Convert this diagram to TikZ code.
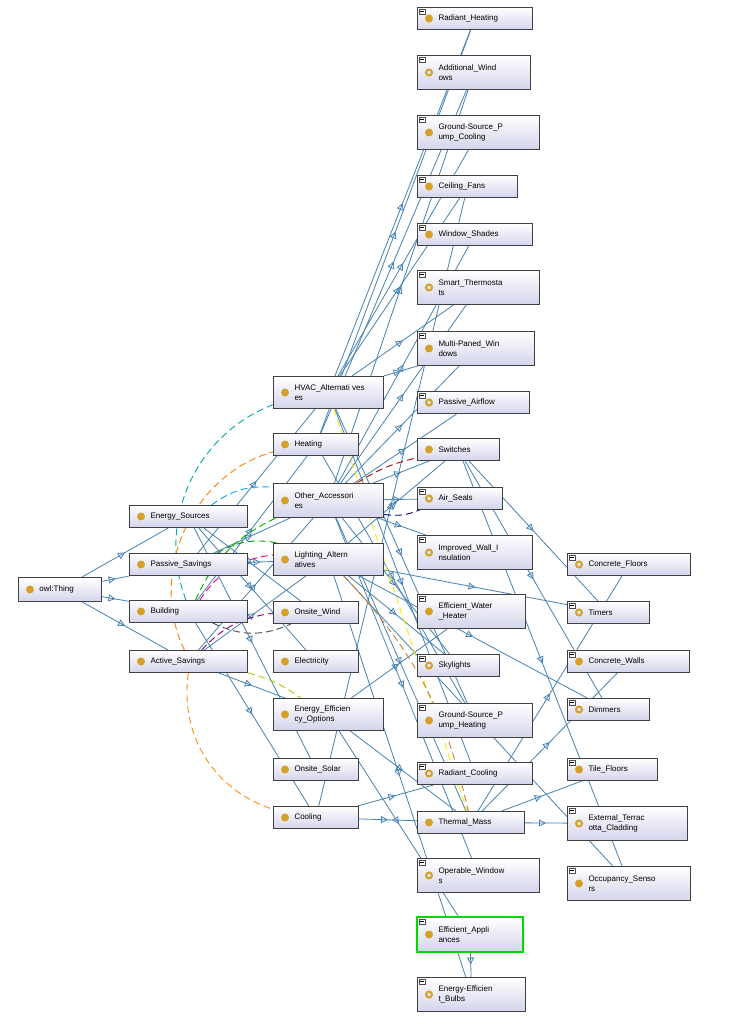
\documentclass[tikz,border=0pt]{standalone}
\usepackage{fontspec}
\setmainfont{Liberation Sans}
\usetikzlibrary{arrows.meta,decorations.markings,backgrounds,calc}
\definecolor{edg}{RGB}{70,130,180}
\definecolor{ico}{RGB}{214,160,40}
\tikzset{
  box/.style={draw=black!75,line width=1pt,top color=white,bottom color={rgb,255:red,212;green,212;blue,236},anchor=north west,inner sep=0pt,font=\fontsize{8}{10.5}\selectfont},
  edge/.style={draw=edg,line width=0.8pt,postaction={decorate},decoration={markings,mark=at position 0.5 with {\arrow[edg,line width=0.8pt]{Triangle[open,length=7pt,width=7pt]}}}},
  dc/.style={line width=0.9pt,dash pattern=on 7pt off 4pt}
}
\newcommand{\nd}[8]{%
  \node[box,minimum width=#4pt,minimum height=#5pt] (#1) at (#2,#3) {\hspace*{20pt}\parbox[c]{\dimexpr#4pt-22pt\relax}{\raggedright #6}};
  \ifnum#7=1 \fill[ico] ($(#1.west)+(12,0)$) circle (4pt);\else
  \draw[ico,line width=2pt] ($(#1.west)+(12,0)$) circle (3pt);\fi
  \ifnum#8=1 \draw[black!70,fill=white,line width=0.4pt] ($(#1.north west)+(2,2)$) rectangle ++(6,5); \draw[black,line width=0.6pt] ($(#1.north west)+(3,4.5)$) -- ++(4,0);\fi
}
\begin{document}
\begin{tikzpicture}[x=1pt,y=-1pt]
\useasboundingbox (0,0) rectangle (729,1024);
\nd{thing}{18}{577}{83}{24}{owl:Thing}{1}{0}
\nd{es}{129}{505}{118}{22}{Energy\_Sources}{1}{0}
\nd{ps}{129}{553}{118}{22}{Passive\_Savings}{1}{0}
\nd{bld}{129}{600}{118}{22}{Building}{1}{0}
\nd{as}{129}{650}{118}{22}{Active\_Savings}{1}{0}
\nd{hvac}{273}{376}{110}{32}{HVAC\_Alternati ves\\es}{1}{0}
\nd{heat}{273}{433}{85}{22}{Heating}{1}{0}
\nd{oa}{273}{483}{110}{34}{Other\_Accessori\\es}{1}{0}
\nd{la}{273}{543}{110}{32}{Lighting\_Altern\\atives}{1}{0}
\nd{ow}{273}{601}{85}{22}{Onsite\_Wind}{1}{0}
\nd{el}{273}{650}{85}{22}{Electricity}{1}{0}
\nd{eeo}{273}{698}{110}{32}{Energy\_Efficien\\cy\_Options}{1}{0}
\nd{os}{273}{758}{85}{22}{Onsite\_Solar}{1}{0}
\nd{cool}{273}{806}{85}{22}{Cooling}{1}{0}
\nd{rh}{417}{7}{115}{22}{Radiant\_Heating}{1}{1}
\nd{aw}{417}{55}{113}{34}{Additional\_Wind\\ows}{0}{1}
\nd{gspc}{417}{115}{122}{34}{Ground-Source\_P\\ump\_Cooling}{1}{1}
\nd{cf}{417}{175}{100}{22}{Ceiling\_Fans}{1}{1}
\nd{wsh}{417}{223}{115}{22}{Window\_Shades}{1}{1}
\nd{st}{417}{270}{122}{34}{Smart\_Thermosta\\ts}{0}{1}
\nd{mpw}{417}{331}{117}{34}{Multi-Paned\_Win\\dows}{1}{1}
\nd{pa}{417}{391}{112}{22}{Passive\_Airflow}{0}{1}
\nd{sw}{417}{438}{82}{22}{Switches}{1}{0}
\nd{air}{417}{487}{85}{22}{Air\_Seals}{0}{1}
\nd{iwi}{417}{535}{115}{34}{Improved\_Wall\_I\\nsulation}{0}{1}
\nd{ewh}{417}{594}{108}{34}{Efficient\_Water\\\_Heater}{1}{1}
\nd{sky}{417}{654}{82}{22}{Skylights}{0}{1}
\nd{gsph}{417}{703}{115}{34}{Ground-Source\_P\\ump\_Heating}{1}{1}
\nd{rc}{417}{762}{115}{22}{Radiant\_Cooling}{0}{1}
\nd{tm}{417}{811}{107}{22}{Thermal\_Mass}{1}{0}
\nd{opw}{417}{858}{122}{34}{Operable\_Window\\s}{0}{1}
\nd{eap}{417}{917}{105}{34}{Efficient\_Appli\\ances}{1}{1}
\draw[green!85!black,line width=1.4pt] (eap.north west) rectangle (eap.south east);
\nd{eeb}{417}{977}{108}{34}{Energy-Efficien\\t\_Bulbs}{0}{1}
\nd{cfl}{567}{553}{123}{22}{Concrete\_Floors}{0}{1}
\nd{tim}{567}{601}{82}{22}{Timers}{0}{1}
\nd{cw}{567}{650}{122}{22}{Concrete\_Walls}{1}{1}
\nd{dim}{567}{698}{82}{22}{Dimmers}{0}{1}
\nd{tf}{567}{758}{90}{22}{Tile\_Floors}{1}{1}
\nd{etc}{567}{806}{120}{34}{External\_Terrac\\otta\_Cladding}{0}{1}
\nd{occ}{567}{866}{123}{34}{Occupancy\_Senso\\rs}{1}{1}
\begin{pgfonlayer}{background}
\fill[white] (0,0) rectangle (729,1024);
\foreach \a/\b in {thing/es,thing/ps,thing/bld,thing/as,
  es/ow,es/el,es/os,ps/hvac,ps/oa,ps/la,bld/heat,bld/cool,as/eeo,as/la,as/oa,
  hvac/rh,hvac/gspc,hvac/cf,hvac/st,hvac/gsph,hvac/rc,heat/rh,heat/gsph,cool/rc,cool/tm,cool/cf,
  oa/aw,oa/wsh,oa/mpw,oa/pa,oa/sw,oa/air,oa/iwi,oa/sky,oa/opw,oa/tm,
  la/sw,la/tim,la/dim,la/occ,la/eeb,la/sky,eeo/ewh,eeo/eap,eeo/tm,
  tm/cfl,tm/cw,tm/tf,tm/etc,sw/tim,sw/dim,sw/occ,eap/eeb,oa/st,heat/aw,hvac/mpw}
  \path[edge] (\a) -- (\b);
\draw[dc,teal!70!cyan] (bld) to[bend left=45] (hvac);
\draw[dc,orange] (as) to[bend left=50] (heat);
\draw[dc,cyan] (es) to[bend left=20] (oa);
\draw[dc,green!60!black] (ps) to[bend left=20] (la);
\draw[dc,magenta] (bld) to[bend left=25] (la);
\draw[dc,violet] (as) to[bend left=20] (ow);
\draw[dc,black!70] (bld) to[bend right=25] (ow);
\draw[dc,red!70!black] (oa) to[bend left=10] (sw);
\draw[dc,yellow!80!lime] (hvac) -- (tm);
\draw[dc,brown!80!orange] (la) to[bend left=15] (tm);
\draw[dc,orange!90] (as) to[bend right=40] (cool);
\draw[dc,lime!60!olive] (as) to[bend left=10] (eeo);
\draw[dc,blue!50!black] (oa) to[bend right=15] (air);
\draw[dc,green!70!black] (bld) to[bend left=20] (oa);
\end{pgfonlayer}
\end{tikzpicture}
\end{document}
